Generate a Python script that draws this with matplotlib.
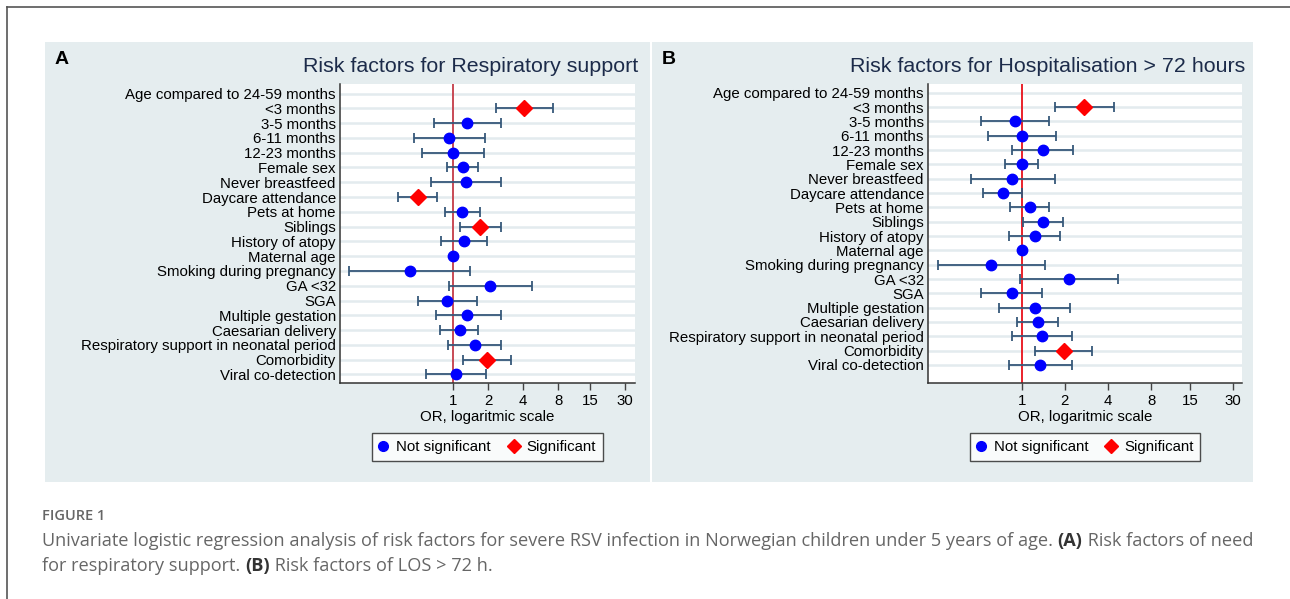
import matplotlib
matplotlib.use("Agg")
import matplotlib.pyplot as plt
import numpy as np
from matplotlib.lines import Line2D
from matplotlib.patches import Rectangle

W, H = 1290, 599
nan = np.nan

labels = ["Age compared to 24-59 months", "<3 months", "3-5 months", "6-11 months",
          "12-23 months", "Female sex", "Never breastfeed", "Daycare attendance",
          "Pets at home", "Siblings", "History of atopy", "Maternal age",
          "Smoking during pregnancy", "GA <32", "SGA", "Multiple gestation",
          "Caesarian delivery", "Respiratory support in neonatal period",
          "Comorbidity", "Viral co-detection"]

# Panel A: respiratory support
or_a = [nan, 4.06, 1.32, 0.93, 1.00, 1.21, 1.28, 0.50, 1.19, 1.70,
        1.25, 1.00, 0.43, 2.09, 0.89, 1.33, 1.14, 1.53, 1.95, 1.07]
lo_a = [nan, 2.35, 0.69, 0.46, 0.54, 0.88, 0.65, 0.34, 0.85, 1.15,
        0.79, 0.99, 0.129, 0.93, 0.50, 0.71, 0.78, 0.90, 1.22, 0.59]
hi_a = [nan, 7.24, 2.56, 1.87, 1.84, 1.65, 2.56, 0.73, 1.70, 2.56,
        1.97, 1.01, 1.41, 4.74, 1.59, 2.56, 1.65, 2.56, 3.17, 1.92]
sig_a = [0, 1, 0, 0, 0, 0, 0, 1, 0, 1, 0, 0, 0, 0, 0, 0, 0, 0, 1, 0]

# Panel B: hospitalisation > 72 h
or_b = [nan, 2.73, 0.895, 1.00, 1.40, 1.00, 0.86, 0.74, 1.15, 1.41,
        1.23, 1.00, 0.61, 2.13, 0.85, 1.24, 1.29, 1.38, 1.96, 1.34]
lo_b = [nan, 1.71, 0.52, 0.58, 0.86, 0.76, 0.44, 0.54, 0.83, 1.02,
        0.81, 0.99, 0.26, 0.98, 0.52, 0.70, 0.93, 0.85, 1.24, 0.81]
hi_b = [nan, 4.39, 1.56, 1.75, 2.28, 1.30, 1.70, 1.01, 1.56, 1.95,
        1.85, 1.01, 1.45, 4.67, 1.39, 2.19, 1.78, 2.24, 3.09, 2.26]
sig_b = [0, 1, 0, 0, 0, 0, 0, 0, 0, 0, 0, 0, 0, 0, 0, 0, 0, 0, 1, 0]

xticks = [1, 2, 4, 8, 15, 30]

plt.rcParams["font.family"] = ["Liberation Sans", "DejaVu Sans"]

fig = plt.figure(figsize=(W / 100, H / 100), dpi=100)

PANEL_BG = "#e5edef"
GRID = "#e3ebee"
BAR = "#36587a"


def fx(px):
    return px / W


def fy(py):
    return 1 - py / H


# outer frame (top + left)
fig.add_artist(Line2D([fx(7), fx(1290)], [fy(7), fy(7)], color="#555555", lw=1.2))
fig.add_artist(Line2D([fx(7), fx(7)], [fy(7), fy(599)], color="#555555", lw=1.2))


def panel(x0, x1, ax_l, ax_r, letter, title, ors, los, his, sig, xlim, ylim, refcol):
    fig.add_artist(Rectangle((fx(x0), fy(482)), fx(x1 - x0), (482 - 42) / H,
                             facecolor=PANEL_BG, edgecolor="none", zorder=0))
    fig.text(fx(x0 + 10), fy(60), letter, fontsize=14, fontweight="bold",
             va="center", ha="left")
    ax = fig.add_axes([fx(ax_l), fy(383.3), fx(ax_r - ax_l), (383.3 - 83.5) / H])
    ax.set_facecolor("white")
    y = np.arange(len(labels))
    ors = np.array(ors)
    los = np.array(los)
    his = np.array(his)
    sig = np.array(sig, dtype=bool)
    for yy in y:
        ax.axhline(yy, color=GRID, lw=1.8, zorder=0)
    ax.axvline(1, color=refcol, lw=1.3, zorder=1)
    ok = ~np.isnan(ors)
    ax.errorbar(ors[ok], y[ok], xerr=[ors[ok] - los[ok], his[ok] - ors[ok]],
                fmt="none", ecolor=BAR, elinewidth=1.3, capsize=3.5,
                capthick=1.3, zorder=2)
    ns = ok & ~sig
    ax.plot(ors[ns], y[ns], "o", color="#0000ff", ms=7.5, mec="#0000ff", zorder=3)
    ax.plot(ors[sig], y[sig], "D", color="#ff0000", ms=8, mec="#ff0000", zorder=3)
    ax.set_xscale("log")
    ax.set_xlim(*xlim)
    ax.set_ylim(*ylim)
    ax.set_yticks(y)
    ax.set_yticklabels(labels, fontsize=10.8)
    ax.tick_params(axis="y", length=0, pad=3)
    ax.set_xticks(xticks)
    ax.set_xticklabels([str(t) for t in xticks], fontsize=10.8)
    ax.xaxis.set_minor_locator(matplotlib.ticker.NullLocator())
    ax.tick_params(axis="x", length=5, width=1, color="#444444", pad=3)
    for s in ["top", "right"]:
        ax.spines[s].set_visible(False)
    for s in ["left", "bottom"]:
        ax.spines[s].set_color("#333333")
        ax.spines[s].set_linewidth(1.1)
    ax.set_xlabel("OR, logaritmic scale", fontsize=10.8, labelpad=1)
    fig.text(fx(ax_r + 3), fy(67), title, fontsize=15.4, color="#1c2b4a",
             ha="right", va="center")
    handles = [Line2D([], [], marker="o", ls="none", color="#0000ff", ms=7),
               Line2D([], [], marker="D", ls="none", color="#ff0000", ms=7)]
    leg = fig.legend(handles, ["Not significant", "Significant"], ncol=2,
                     loc="center", bbox_to_anchor=(fx((ax_l + ax_r) / 2), fy(447)),
                     fontsize=10.8, frameon=True, fancybox=False,
                     handletextpad=0.55, columnspacing=1.25, handlelength=0.6,
                     borderpad=0.45)
    leg.get_frame().set_edgecolor("#222222")
    leg.get_frame().set_linewidth(1.0)
    return ax


panel(45, 650, 340, 635, "A", "Risk factors for Respiratory support",
      or_a, lo_a, hi_a, sig_a, (0.107, 36.5), (19.6, -0.68), "#c43c48")
panel(652, 1253, 928, 1242, "B", "Risk factors for Hospitalisation > 72 hours",
      or_b, lo_b, hi_b, sig_b, (0.222, 34.5), (20.28, -0.65), "#e8101a")

# caption
CAP = "#666666"
fig.text(fx(42), fy(516), "FIGURE 1", fontsize=10.5, fontweight="semibold",
         color=CAP, family="Open Sans", va="center")

renderer = fig.canvas.get_renderer()


def rich_line(x_px, y_px, parts):
    x = x_px
    for txt, bold in parts:
        t = fig.text(fx(x), fy(y_px), txt, fontsize=13.1, family="Open Sans",
                     color="#333333" if bold else CAP,
                     fontweight="bold" if bold else "normal", va="center")
        bb = t.get_window_extent(renderer=renderer)
        x += bb.width


rich_line(42, 541, [("Univariate logistic regression analysis of risk factors for severe RSV "
                     "infection in Norwegian children under 5 years of age. ", False),
                    ("(A)", True), (" Risk factors of need", False)])
rich_line(42, 566, [("for respiratory support. ", False), ("(B)", True),
                    (" Risk factors of LOS > 72 h.", False)])

fig.savefig("out.png", dpi=100)
